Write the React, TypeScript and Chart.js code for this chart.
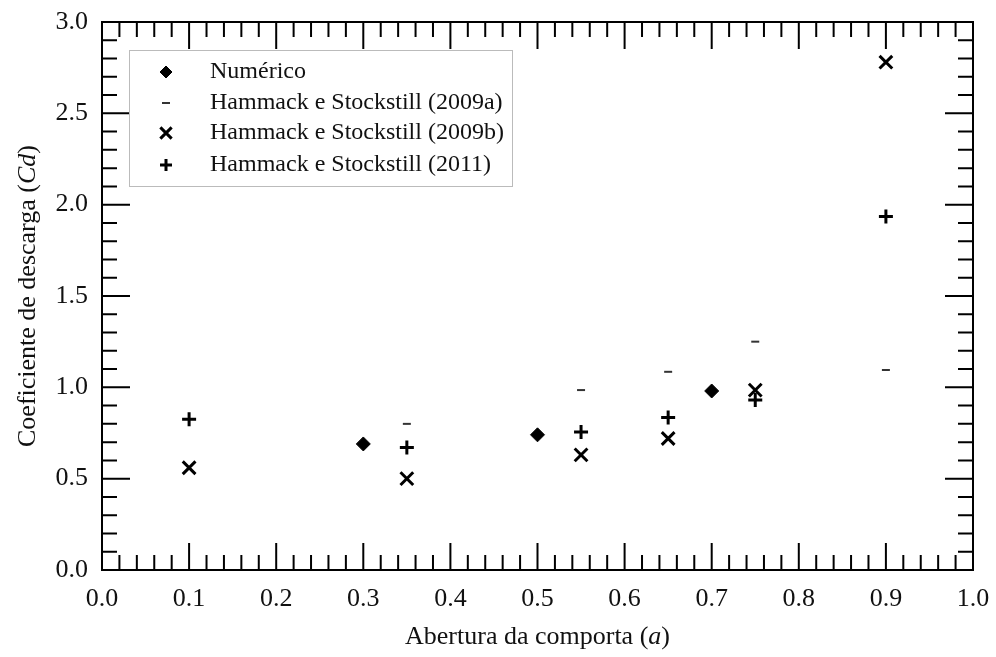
import React, { useEffect, useRef } from "react";
import { Chart, registerables } from "chart.js";

Chart.register(...registerables);

// ---- Data ----
const aNumerico = [0.3, 0.5, 0.7];
const cdNumerico = [0.69, 0.74, 0.98];

const a2009a = [0.35, 0.55, 0.65, 0.75, 0.9];
const cd2009a = [0.8, 0.985, 1.085, 1.25, 1.095];

const a2009b = [0.1, 0.35, 0.55, 0.65, 0.75, 0.9];
const cd2009b = [0.56, 0.5, 0.63, 0.72, 0.985, 2.78];

const a2011 = [0.1, 0.35, 0.55, 0.65, 0.75, 0.9];
const cd2011 = [0.825, 0.67, 0.755, 0.835, 0.93, 1.935];

const seriesLabels = [
  "Numérico",
  "Hammack e Stockstill (2009a)",
  "Hammack e Stockstill (2009b)",
  "Hammack e Stockstill (2011)",
];

const xTitleParts: [string, boolean][] = [["Abertura da comporta (", false], ["a", true], [")", false]];
const yTitleParts: [string, boolean][] = [["Coeficiente de descarga (", false], ["Cd", true], [")", false]];

const FONT = "'Liberation Serif', 'Times New Roman', serif";

const toPts = (xs: number[], ys: number[]) => xs.map((x, i) => ({ x, y: ys[i] }));

function drawParts(ctx: CanvasRenderingContext2D, parts: [string, boolean][], size: number) {
  let total = 0;
  for (const [t, it] of parts) {
    ctx.font = `${it ? "italic " : ""}${size}px ${FONT}`;
    total += ctx.measureText(t).width;
  }
  let x = -total / 2;
  for (const [t, it] of parts) {
    ctx.font = `${it ? "italic " : ""}${size}px ${FONT}`;
    ctx.fillText(t, x, 0);
    x += ctx.measureText(t).width;
  }
}

function drawPointStyle(ctx: CanvasRenderingContext2D, style: string, r: number, x: number, y: number) {
  ctx.beginPath();
  if (style === "rectRot") {
    ctx.moveTo(x - r, y);
    ctx.lineTo(x, y - r);
    ctx.lineTo(x + r, y);
    ctx.lineTo(x, y + r);
    ctx.closePath();
    ctx.fill();
    ctx.stroke();
  } else if (style === "crossRot") {
    const o = r * Math.SQRT1_2;
    ctx.moveTo(x - o, y - o);
    ctx.lineTo(x + o, y + o);
    ctx.moveTo(x - o, y + o);
    ctx.lineTo(x + o, y - o);
    ctx.stroke();
  } else if (style === "cross") {
    ctx.moveTo(x - r, y);
    ctx.lineTo(x + r, y);
    ctx.moveTo(x, y - r);
    ctx.lineTo(x, y + r);
    ctx.stroke();
  } else if (style === "line") {
    ctx.moveTo(x - r, y);
    ctx.lineTo(x + r, y);
    ctx.stroke();
  }
}

const framePlugin = {
  id: "framePlugin",
  afterDraw(chart: any) {
    const { ctx, chartArea: ca, scales } = chart;
    const xs = scales.x;
    const ys = scales.y;
    ctx.save();
    ctx.strokeStyle = "#000";
    ctx.lineWidth = 2;
    ctx.strokeRect(ca.left, ca.top, ca.right - ca.left, ca.bottom - ca.top);
    for (let i = 0; i <= 50; i++) {
      const px = xs.getPixelForValue(i * 0.02);
      const len = i % 5 === 0 ? 27 : 15;
      ctx.beginPath();
      ctx.moveTo(px, ca.bottom);
      ctx.lineTo(px, ca.bottom - len);
      ctx.moveTo(px, ca.top);
      ctx.lineTo(px, ca.top + len);
      ctx.stroke();
    }
    for (let i = 0; i <= 30; i++) {
      const py = ys.getPixelForValue(i * 0.1);
      const len = i % 5 === 0 ? 28 : 15;
      ctx.beginPath();
      ctx.moveTo(ca.left, py);
      ctx.lineTo(ca.left + len, py);
      ctx.moveTo(ca.right, py);
      ctx.lineTo(ca.right - len, py);
      ctx.stroke();
    }
    // axis titles
    ctx.fillStyle = "#111";
    ctx.textBaseline = "middle";
    ctx.textAlign = "left";
    ctx.save();
    ctx.translate((ca.left + ca.right) / 2, 637);
    drawParts(ctx, xTitleParts, 26);
    ctx.restore();
    ctx.save();
    ctx.translate(28, (ca.top + ca.bottom) / 2);
    ctx.rotate(-Math.PI / 2);
    drawParts(ctx, yTitleParts, 26);
    ctx.restore();

    // legend
    const lx = 129, ly = 50, lw = 383, lh = 136;
    ctx.fillStyle = "#fff";
    ctx.fillRect(lx, ly, lw, lh);
    ctx.strokeStyle = "#bbb";
    ctx.lineWidth = 1;
    ctx.strokeRect(lx + 0.5, ly + 0.5, lw, lh);
    const rowsY = [72, 103, 133, 165];
    chart.data.datasets.forEach((ds: any, i: number) => {
      const y = rowsY[i];
      ctx.save();
      ctx.fillStyle = ds.backgroundColor;
      ctx.strokeStyle = ds.borderColor;
      ctx.lineWidth = ds.borderWidth;
      const r = ds.pointStyle === "rectRot" ? 6 : ds.pointStyle === "crossRot" ? 8 : ds.pointStyle === "cross" ? 6 : ds.pointRadius;
      drawPointStyle(ctx, ds.pointStyle, r, 166, y);
      ctx.restore();
      ctx.fillStyle = "#111";
      ctx.font = `24px ${FONT}`;
      ctx.textAlign = "left";
      ctx.textBaseline = "middle";
      ctx.fillText(seriesLabels[i], 210, y);
    });
    ctx.restore();
  },
};

export default function App() {
  const ref = useRef<HTMLCanvasElement>(null);
  useEffect(() => {
    document.body.style.margin = "0";
    const canvas = ref.current!;
    const chart = new Chart(canvas, {
      type: "scatter",
      data: {
        datasets: [
          {
            label: seriesLabels[0],
            data: toPts(aNumerico, cdNumerico),
            pointStyle: "rectRot",
            pointRadius: 7,
            borderWidth: 1,
            backgroundColor: "#000",
            borderColor: "#000",
          },
          {
            label: seriesLabels[1],
            data: toPts(a2009a, cd2009a),
            pointStyle: "line",
            pointRadius: 4,
            borderWidth: 2,
            backgroundColor: "#333",
            borderColor: "#333",
          },
          {
            label: seriesLabels[2],
            data: toPts(a2009b, cd2009b),
            pointStyle: "crossRot",
            pointRadius: 9,
            borderWidth: 3,
            backgroundColor: "#000",
            borderColor: "#000",
          },
          {
            label: seriesLabels[3],
            data: toPts(a2011, cd2011),
            pointStyle: "cross",
            pointRadius: 7,
            borderWidth: 3,
            backgroundColor: "#000",
            borderColor: "#000",
          },
        ] as any,
      },
      options: {
        animation: false,
        responsive: false,
        maintainAspectRatio: false,
        layout: { padding: { top: 22, right: 23, left: 0, bottom: 0 } },
        plugins: { legend: { display: false }, tooltip: { enabled: false } },
        scales: {
          x: {
            type: "linear",
            min: 0,
            max: 1,
            grid: { display: false, drawTicks: false },
            border: { display: false },
            ticks: {
              stepSize: 0.1,
              padding: 14,
              color: "#111",
              font: { family: FONT, size: 26 },
              callback: (v: any) => Number(v).toFixed(1),
            },
            afterFit: (s: any) => {
              s.height = 87;
              s.paddingLeft = 0;
              s.paddingRight = 0;
            },
          },
          y: {
            type: "linear",
            min: 0,
            max: 3,
            grid: { display: false, drawTicks: false },
            border: { display: false },
            ticks: {
              stepSize: 0.5,
              padding: 14,
              color: "#111",
              font: { family: FONT, size: 26 },
              callback: (v: any) => Number(v).toFixed(1),
            },
            afterFit: (s: any) => {
              s.width = 102;
              s.paddingTop = 0;
              s.paddingBottom = 0;
            },
          },
        },
      },
      plugins: [framePlugin],
    });
    return () => chart.destroy();
  }, []);
  return (
    <div style={{ position: "absolute", left: 0, top: 0, width: 996, height: 657, background: "#fff" }}>
      <canvas ref={ref} width={996} height={657} />
    </div>
  );
}
